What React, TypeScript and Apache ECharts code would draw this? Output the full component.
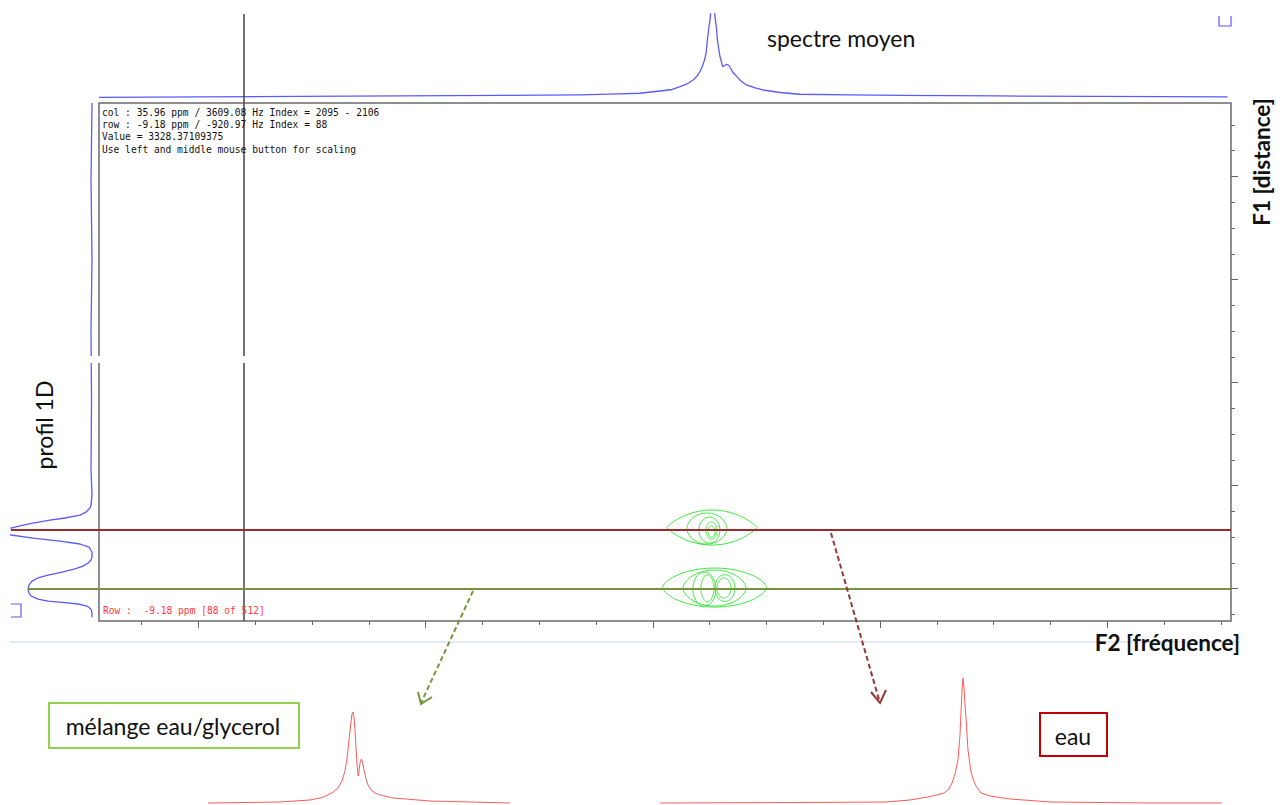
import React, { useEffect, useRef } from "react";
import * as echarts from "echarts";

// ---- axes (F2 = fréquence, F1 = distance), abstract tick units ----
const f2Range = [0.248, 20.18];
const f1Range = [0.146, 20.26];
const f2Ticks = [1, 2, 3, 4, 5, 6, 7, 8, 9, 10, 11, 12, 13, 14, 15, 16, 17, 18, 19, 20];
const f2MajorTicks = [2, 6, 10, 14, 18];
const f1Ticks = [1, 2, 3, 4, 5, 6, 7, 8, 9, 10, 11, 12, 13, 14, 15, 16, 17, 18, 19, 20];
const f1MajorTicks = [3, 7, 11, 15, 19];

// ---- cursor ----
const cursorF2 = 2.8;
const rowWaterF1 = 16.73;
const rowMixF1 = 19.02;

// ---- spectre moyen (top) ----
const meanF2 = [0.248, 2.03, 3.79, 5.55, 7.31, 8.72, 9.07, 9.42, 9.77, 10.13, 10.34, 10.48, 10.6, 10.71, 10.78, 10.83, 10.87, 10.91, 10.94, 10.96, 10.99, 11.01, 11.03, 11.07, 11.09, 11.12, 11.14, 11.18, 11.23, 11.27, 11.3, 11.34, 11.37, 11.41, 11.48, 11.55, 11.65, 11.8, 11.94, 12.24, 12.59, 13.47, 14.35, 16.11, 17.87, 20.12];
const meanIntensity = [0.006, 0.012, 0.018, 0.024, 0.03, 0.036, 0.042, 0.048, 0.056, 0.083, 0.101, 0.135, 0.167, 0.214, 0.262, 0.315, 0.373, 0.452, 0.548, 0.69, 0.857, 0.952, 1.107, 1.107, 0.988, 0.833, 0.67, 0.5, 0.373, 0.39, 0.4, 0.387, 0.354, 0.304, 0.254, 0.202, 0.155, 0.119, 0.095, 0.065, 0.044, 0.036, 0.03, 0.024, 0.018, 0.012];

// ---- profil 1D (left) ----
const profileF1 = [0.146, 3.14, 6.24, 8.96, 11.68, 14.4, 15.37, 15.76, 15.87, 16.03, 16.15, 16.26, 16.34, 16.46, 16.57, 16.65, 16.77, 16.92, 17.04, 17.16, 17.27, 17.39, 17.58, 17.78, 17.89, 18.01, 18.13, 18.24, 18.36, 18.48, 18.59, 18.71, 18.86, 19.02, 19.17, 19.29, 19.41, 19.49, 19.54, 19.6, 19.68, 19.8, 19.95, 20.11];
const profileIntensity = [0, 0.012, 0, 0.012, 0.006, 0.012, 0, 0.012, 0.025, 0.074, 0.148, 0.333, 0.519, 0.728, 0.889, 1.0, 1.38, 1.0, 0.728, 0.395, 0.148, 0.037, 0, 0, 0.012, 0.049, 0.111, 0.21, 0.37, 0.543, 0.667, 0.741, 0.778, 0.79, 0.778, 0.753, 0.667, 0.543, 0.37, 0.173, 0.062, 0.012, 0, 0];

// ---- contours: [F2 centre, F1 centre, F2 half-width, F1 half-height, shape] ----
const contoursWater = [
  [11.04, 16.631, 0.792, 0.68, 0.85],
  [10.952, 16.67, 0.352, 0.602, 0.55],
  [10.996, 16.728, 0.185, 0.505, 0.5],
  [11.032, 16.748, 0.097, 0.33, 0.5],
  [11.032, 16.786, 0.062, 0.214, 0.5],
];
const contoursMix = [
  [11.088, 18.961, 0.915, 0.757, 0.62],
  [11.085, 18.981, 0.555, 0.699, 0.58],
  [10.908, 19.019, 0.202, 0.66, 0.5],
  [10.961, 18.992, 0.114, 0.517, 0.5],
  [11.269, 18.981, 0.176, 0.517, 0.5],
  [11.252, 18.981, 0.123, 0.388, 0.5],
];

// ---- row slices (bottom), position in % of slice width ----
const mixSliceX = [0, 23.84, 33.77, 37.75, 41.06, 43.05, 44.37, 45.36, 46.03, 46.69, 47.35, 47.68, 48.01, 48.34, 48.68, 49.01, 49.34, 49.74, 50.07, 50.33, 50.79, 51.16, 51.66, 52.32, 52.98, 53.97, 55.63, 56.95, 61.26, 73.51, 86.75, 100];
const mixSliceY = [0, 0.011, 0.033, 0.06, 0.11, 0.165, 0.242, 0.352, 0.484, 0.692, 0.89, 0.978, 1.0, 0.945, 0.802, 0.604, 0.429, 0.297, 0.363, 0.44, 0.484, 0.451, 0.363, 0.264, 0.198, 0.143, 0.104, 0.088, 0.055, 0.022, 0.011, 0];
const waterSliceX = [0, 24.91, 40.21, 44.48, 47.6, 49.29, 50.53, 51.42, 51.96, 52.49, 53.02, 53.38, 53.56, 53.74, 53.91, 54.09, 54.27, 54.54, 54.8, 55.27, 55.69, 56.23, 57.12, 58.72, 62.28, 69.57, 87.19, 100];
const waterSliceY = [0, 0.004, 0.008, 0.024, 0.048, 0.064, 0.08, 0.112, 0.16, 0.232, 0.344, 0.544, 0.728, 0.904, 1.0, 0.92, 0.784, 0.624, 0.424, 0.264, 0.192, 0.136, 0.08, 0.056, 0.032, 0.008, 0, 0];

const infoLines = [
  "col : 35.96 ppm / 3609.08 Hz Index = 2095 - 2106",
  "row : -9.18 ppm / -920.97 Hz Index = 88",
  "Value = 3328.37109375",
  "Use left and middle mouse button for scaling",
];
const rowLabel = "Row :  -9.18 ppm [88 of 512]";

const zip = (a: number[], b: number[]) => a.map((v, i) => [v, b[i]]);

export default function App() {
  const ref = useRef<HTMLDivElement>(null);
  useEffect(() => {
    if (!ref.current) return;
    const chart = echarts.init(ref.current, null, { renderer: "svg" });
    const blue = "#5a5aff";
    const hidden = { show: false };
    const mono = "9.6px 'DejaVu Sans Mono'";
    const label = "23px Lato";
    const contourSeries = (data: number[][]) => ({
      type: "custom",
      xAxisIndex: 0,
      yAxisIndex: 0,
      data,
      silent: true,
      renderItem: (params: any, api: any) => {
        const c = api.coord([api.value(0), api.value(1)]);
        const s = api.size([api.value(2), api.value(3)]);
        const sx = Math.abs(s[0]);
        const sy = Math.abs(s[1]);
        const q = api.value(4);
        const pts: number[][] = [];
        for (let i = 0; i < 80; i++) {
          const t = (i / 80) * Math.PI * 2;
          const st = Math.sin(t);
          pts.push([c[0] + sx * Math.cos(t), c[1] + sy * Math.sign(st) * Math.pow(Math.abs(st), 2 * q)]);
        }
        return { type: "polygon", shape: { points: pts }, style: { fill: "none", stroke: "#3fe83f", lineWidth: 1 } };
      },
    });
    const option: any = {
      animation: false,
      grid: [
        { left: 99, top: 103, width: 1132, height: 518, show: true, borderColor: "#6a6a6a", borderWidth: 1.5, backgroundColor: "transparent" },
        { left: 99, top: 14, width: 1132, height: 89 },
        { left: 11, top: 103, width: 88, height: 518 },
        { left: 208, top: 712, width: 302, height: 91 },
        { left: 660, top: 678, width: 562, height: 125 },
      ],
      xAxis: [
        { gridIndex: 0, type: "value", min: f2Range[0], max: f2Range[1], position: "bottom", axisLine: { show: false }, axisTick: { show: true, length: 4, customValues: f2Ticks, lineStyle: { color: "#666", width: 1 } }, axisLabel: { show: false }, splitLine: { show: false } },
        { gridIndex: 0, type: "value", min: f2Range[0], max: f2Range[1], position: "bottom", axisLine: { show: false }, axisTick: { show: true, length: 7, customValues: f2MajorTicks, lineStyle: { color: "#666", width: 1 } }, axisLabel: { show: false }, splitLine: { show: false } },
        { gridIndex: 1, type: "value", min: f2Range[0], max: f2Range[1], ...hidden },
        { gridIndex: 2, type: "value", min: -0.0864, max: 1, inverse: true, ...hidden },
        { gridIndex: 3, type: "value", min: 0, max: 100, ...hidden },
        { gridIndex: 4, type: "value", min: 0, max: 100, ...hidden },
      ],
      yAxis: [
        { gridIndex: 0, type: "value", min: f1Range[0], max: f1Range[1], inverse: true, position: "right", axisLine: { show: false }, axisTick: { show: true, length: 4, customValues: f1Ticks, lineStyle: { color: "#666", width: 1 } }, axisLabel: { show: false }, splitLine: { show: false } },
        { gridIndex: 0, type: "value", min: f1Range[0], max: f1Range[1], inverse: true, position: "right", axisLine: { show: false }, axisTick: { show: true, length: 7, customValues: f1MajorTicks, lineStyle: { color: "#666", width: 1 } }, axisLabel: { show: false }, splitLine: { show: false } },
        { gridIndex: 1, type: "value", min: -0.06, max: 1, ...hidden },
        { gridIndex: 2, type: "value", min: f1Range[0], max: f1Range[1], inverse: true, ...hidden },
        { gridIndex: 3, type: "value", min: 0, max: 1, ...hidden },
        { gridIndex: 4, type: "value", min: 0, max: 1, ...hidden },
      ],
      series: [
        {
          type: "line", xAxisIndex: 2, yAxisIndex: 2, data: zip(meanF2, meanIntensity), symbol: "none", clip: true,
          lineStyle: { color: blue, width: 1.3, join: "round" },
          markLine: { silent: true, symbol: "none", label: { show: false }, lineStyle: { color: "#444", width: 1.5, type: "solid" }, data: [{ xAxis: cursorF2 }] },
        },
        {
          type: "line", xAxisIndex: 3, yAxisIndex: 3, data: zip(profileIntensity, profileF1), symbol: "none", clip: true,
          lineStyle: { color: blue, width: 1.3, join: "round" },
          markLine: {
            silent: true, symbol: "none", label: { show: false },
            data: [
              [{ coord: [1.0, rowWaterF1], lineStyle: { color: "#9e2a2b", width: 2, type: "solid" } }, { coord: [-0.0864, rowWaterF1] }],
              [{ coord: [0.79, rowMixF1], lineStyle: { color: "#77933c", width: 2, type: "solid" } }, { coord: [-0.0864, rowMixF1] }],
            ],
          },
        },
        contourSeries(contoursWater),
        contourSeries(contoursMix),
        {
          type: "line", xAxisIndex: 0, yAxisIndex: 0, data: [[cursorF2, rowMixF1]], symbol: "none", lineStyle: { width: 0 },
          markLine: {
            silent: true, symbol: "none", label: { show: false },
            data: [
              { xAxis: cursorF2, lineStyle: { color: "#444", width: 1.5, type: "solid" } },
              { yAxis: rowWaterF1, lineStyle: { color: "#9e2a2b", width: 2, type: "solid" } },
              { yAxis: rowMixF1, lineStyle: { color: "#77933c", width: 2, type: "solid" } },
            ],
          },
        },
        { type: "line", xAxisIndex: 4, yAxisIndex: 4, data: zip(mixSliceX, mixSliceY), symbol: "none", clip: false, lineStyle: { color: "#ff5a5a", width: 1, join: "round" } },
        { type: "line", xAxisIndex: 5, yAxisIndex: 5, data: zip(waterSliceX, waterSliceY), symbol: "none", clip: false, lineStyle: { color: "#ff5a5a", width: 1, join: "round" } },
      ],
      graphic: [
        { type: "rect", z: 100, shape: { x: 84, y: 356, width: 166, height: 7 }, style: { fill: "#fff" } },
        { type: "line", z: 1, shape: { x1: 10, y1: 642, x2: 1240, y2: 642 }, style: { stroke: "#c6d9f0", lineWidth: 1 } },
        ...infoLines.map((t, i) => ({ type: "text", z: 50, style: { text: t, x: 102, y: 112 + i * 12.4, font: mono, fill: "#111", textVerticalAlign: "middle" } })),
        { type: "text", z: 50, style: { text: rowLabel, x: 103, y: 610, font: mono, fill: "#ff3a3a", textVerticalAlign: "middle" } },
        { type: "polyline", z: 50, shape: { points: [[1219, 16], [1219, 26], [1231, 26], [1231, 16]] }, style: { stroke: blue, lineWidth: 1.2, fill: "none" } },
        { type: "polyline", z: 50, shape: { points: [[11, 604], [21, 604], [21, 617], [11, 617]] }, style: { stroke: blue, lineWidth: 1.2, fill: "none" } },
        { type: "text", z: 50, style: { text: "spectre moyen", x: 767, y: 38, font: label, fill: "#111", textVerticalAlign: "middle" } },
        { type: "text", z: 50, x: 44, y: 425, rotation: Math.PI / 2, style: { text: "profil 1D", x: 0, y: 0, font: label, fill: "#111", textAlign: "center", textVerticalAlign: "middle" } },
        { type: "text", z: 50, x: 1261, y: 162, rotation: Math.PI / 2, style: { text: "F1 [distance]", x: 0, y: 0, font: "bold 22.5px Lato", fill: "#111", textAlign: "center", textVerticalAlign: "middle" } },
        { type: "text", z: 50, style: { text: "F2 [fréquence]", x: 1240, y: 642, font: "bold 22.5px Lato", fill: "#111", textAlign: "right", textVerticalAlign: "middle" } },
        { type: "rect", z: 50, shape: { x: 49, y: 703, width: 250, height: 45 }, style: { fill: "#fff", stroke: "#92d050", lineWidth: 2 } },
        { type: "text", z: 51, style: { text: "mélange eau/glycerol", x: 173, y: 726, font: label, fill: "#111", textAlign: "center", textVerticalAlign: "middle" } },
        { type: "rect", z: 50, shape: { x: 1040, y: 713, width: 67, height: 43 }, style: { fill: "#fff", stroke: "#c00000", lineWidth: 2 } },
        { type: "text", z: 51, style: { text: "eau", x: 1073, y: 736, font: label, fill: "#111", textAlign: "center", textVerticalAlign: "middle" } },
        { type: "line", z: 50, shape: { x1: 473, y1: 591, x2: 421, y2: 703 }, style: { stroke: "#77933c", lineWidth: 2, lineDash: [5, 3] } },
        { type: "polyline", z: 50, shape: { points: [[418, 692], [421, 704], [432, 697]] }, style: { stroke: "#77933c", lineWidth: 2, fill: "none" } },
        { type: "line", z: 50, shape: { x1: 831, y1: 533, x2: 880, y2: 703 }, style: { stroke: "#953735", lineWidth: 2, lineDash: [5, 3] } },
        { type: "polyline", z: 50, shape: { points: [[871, 692], [880, 703], [886, 690]] }, style: { stroke: "#953735", lineWidth: 2, fill: "none" } },
      ],
    };
    chart.setOption(option);
    return () => chart.dispose();
  }, []);
  return <div ref={ref} style={{ position: "fixed", left: 0, top: 0, width: 1284, height: 805, background: "#fff" }} />;
}
